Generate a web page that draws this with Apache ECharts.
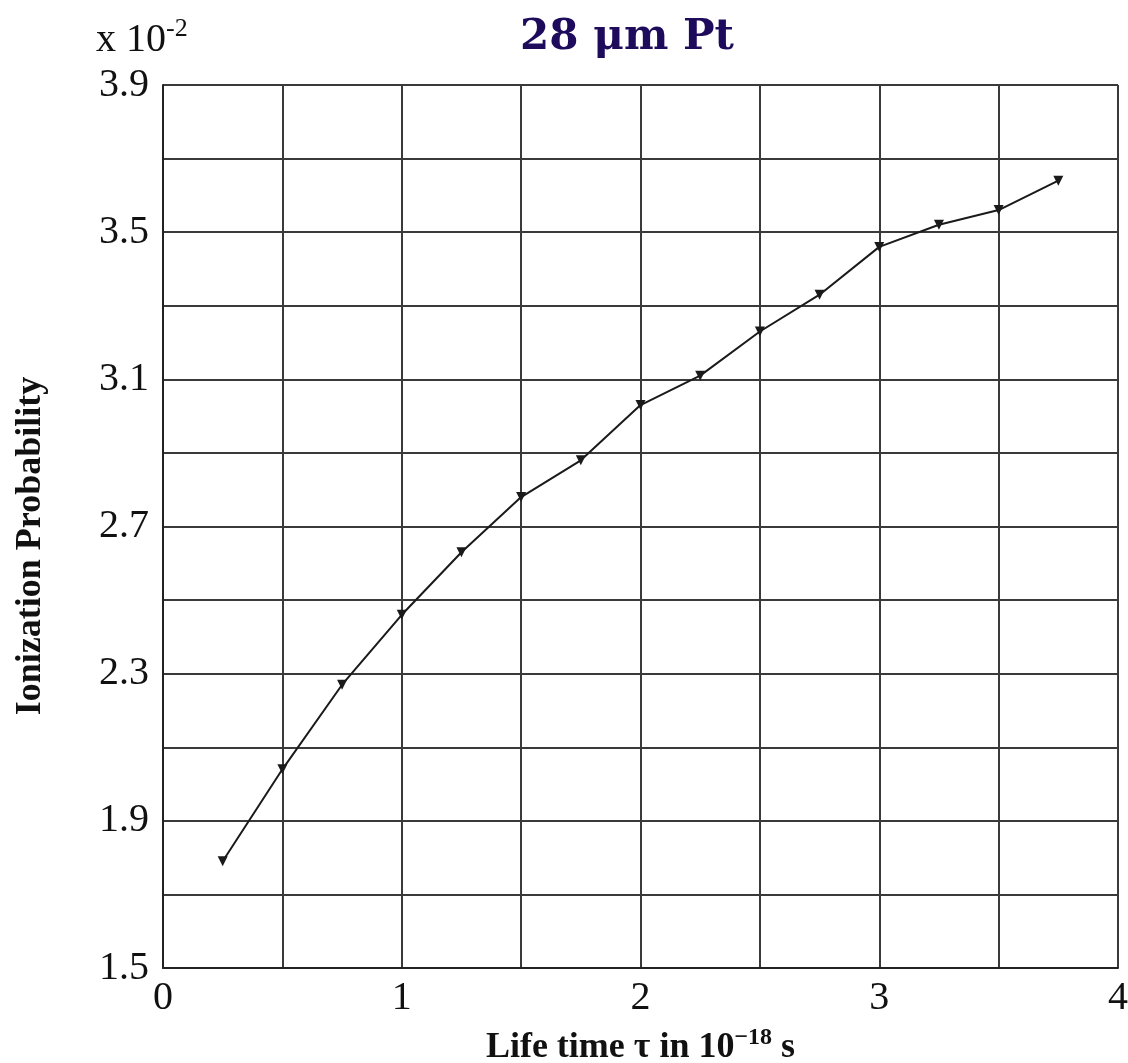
<!DOCTYPE html>
<html>
<head>
<meta charset="utf-8">
<script src="https://cdn.jsdelivr.net/npm/echarts@6/dist/echarts.min.js"></script>
<style>
  html, body { margin: 0; padding: 0; background: #fff; }
  #chart { width: 1128px; height: 1063px; }
</style>
</head>
<body>
<div id="chart"></div>
<script>
// lifetime (1e-18 s) vs ionization probability (x 1e-2)
const lifeTime = [0.25, 0.5, 0.75, 1.0, 1.25, 1.5, 1.75, 2.0, 2.25, 2.5, 2.75, 3.0, 3.25, 3.5, 3.75];
const ionProb = [1.79, 2.04, 2.27, 2.46, 2.63, 2.78, 2.88, 3.03, 3.11, 3.23, 3.33, 3.46, 3.52, 3.56, 3.64];

const serif = "'Liberation Serif', 'DejaVu Serif', serif";
const gridColor = "#3a3a3a";

const chart = echarts.init(document.getElementById("chart"));

chart.setOption({
  backgroundColor: "#fff",
  animation: false,
  title: {
    text: "28 μm Pt",
    left: 622,
    top: 12,
    textAlign: "center",
    textStyle: { fontFamily: "'DejaVu Serif', serif", fontSize: 42, fontWeight: "bold", color: "#1e0b5c" },
  },
  graphic: [
    {
      type: "text",
      left: 96,
      top: 16,
      style: {
        text: "{b|x 10}{s|-2}",
        rich: {
          b: { fontFamily: serif, fontSize: 40, fill: "#111", verticalAlign: "bottom", lineHeight: 44 },
          s: { fontFamily: serif, fontSize: 26, fill: "#111", verticalAlign: "top", lineHeight: 44 },
        },
      },
    },
    {
      // y axis title, sits a little below the plot's middle
      type: "text",
      x: 31,
      y: 546,
      rotation: Math.PI / 2,
      style: {
        text: "Ionization Probability",
        fontFamily: serif,
        fontSize: 36,
        fontWeight: "bold",
        fill: "#111",
        align: "center",
        verticalAlign: "middle",
      },
    },
  ],
  grid: { left: 163, right: 10, top: 85, bottom: 95, outerBoundsMode: "none" },
  xAxis: {
    type: "value",
    min: 0,
    max: 4,
    interval: 0.5,
    name: "{b|Life time τ in 10}{s|−18}{b| s}",
    nameLocation: "middle",
    nameGap: 58,
    nameTextStyle: {
      rich: {
        b: { fontFamily: serif, fontSize: 36, fontWeight: "bold", color: "#111", verticalAlign: "bottom", lineHeight: 40 },
        s: { fontFamily: serif, fontSize: 24, fontWeight: "bold", color: "#111", verticalAlign: "top", lineHeight: 40 },
      },
    },
    axisLine: { show: true, onZero: false, lineStyle: { color: "#222", width: 2 } },
    axisTick: { show: false },
    axisLabel: {
      fontFamily: serif,
      fontSize: 40,
      color: "#111",
      margin: 10,
      formatter: (v) => (Math.abs(v - Math.round(v)) < 1e-6 ? String(Math.round(v)) : ""),
    },
    splitLine: { show: true, lineStyle: { color: gridColor, width: 2 } },
  },
  yAxis: {
    type: "value",
    min: 1.5,
    max: 3.9,
    interval: 0.2,
    axisLine: { show: true, lineStyle: { color: "#222", width: 2 } },
    axisTick: { show: false },
    axisLabel: {
      fontFamily: serif,
      fontSize: 40,
      color: "#111",
      margin: 14,
      formatter: (v) => (Math.round((v - 1.5) / 0.2) % 2 === 0 ? v.toFixed(1) : ""),
    },
    splitLine: { show: true, lineStyle: { color: gridColor, width: 2 } },
  },
  series: [
    {
      type: "line",
      data: lifeTime.map((t, i) => [t, ionProb[i]]),
      symbol: "triangle",
      symbolSize: 10,
      symbolRotate: 180,
      showSymbol: true,
      lineStyle: { color: "#1a1a1a", width: 2 },
      itemStyle: { color: "#1a1a1a", borderWidth: 0 },
    },
  ],
});
</script>
</body>
</html>
